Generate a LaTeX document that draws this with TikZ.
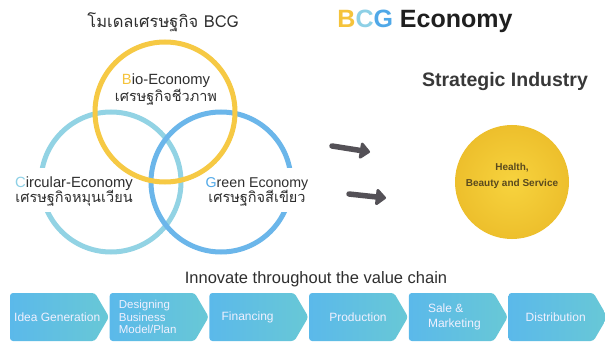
\documentclass[tikz,border=0pt]{standalone}
\usepackage{fontspec}
\setmainfont{Liberation Sans}
\newfontfamily\thaifont[Script=Thai]{Loma}
\usetikzlibrary{arrows.meta}
\definecolor{ringY}{HTML}{F6C944}
\definecolor{ringC}{HTML}{92D3E4}
\definecolor{ringB}{HTML}{6BB6EA}
\definecolor{txt}{HTML}{2E2E2E}
\definecolor{chevL}{HTML}{5BB9EA}
\definecolor{chevR}{HTML}{68C8D6}
\definecolor{arrowgray}{HTML}{545157}
\definecolor{goldIn}{HTML}{F7D33E}
\definecolor{goldOut}{HTML}{EDBF2C}
\definecolor{healthtxt}{HTML}{5A4A1E}
\definecolor{letY}{HTML}{F5C33B}
\definecolor{letC}{HTML}{8DD0E6}
\definecolor{letB}{HTML}{4FA8E8}
\begin{document}
\begin{tikzpicture}[x=1pt,y=-1pt,
  ring/.style={circle, line width=5pt, inner sep=0pt, minimum size=140pt},
  lbl/.style={anchor=base, inner sep=0pt, text=txt, font=\fontsize{14.8}{16}\selectfont},
  thl/.style={anchor=base, inner sep=0pt, text=txt, font=\thaifont\fontsize{14.5}{16}\selectfont},
  blank/.style={fill=white, inner sep=3pt},
  chevshape/.style={rounded corners=3pt, left color=chevL, right color=chevR},
  chevtext/.style={text=white!94!blue, font=\fontsize{12}{13}\selectfont, inner sep=0pt, align=left},
  bigarrow/.style={draw=arrowgray, line width=5.5pt, line cap=round, -{Triangle[round,length=11pt,width=19pt]}}
]
\useasboundingbox (0,0) rectangle (605,342);
\fill[white] (0,0) rectangle (605,342);

% titles
\node[anchor=base, inner sep=0pt, text=txt, font=\thaifont\fontsize{16.5}{18}\selectfont] (title) at (163,28) {โมเดลเศรษฐกิจ BCG};
\node[anchor=base, inner sep=0pt, font=\bfseries\fontsize{25}{28}\selectfont] (bcg) at (425,28)
  {{\color{letY}B}{\color{letC}C}{\color{letB}G} {\color{black!88}Economy}};
\node[anchor=base, inner sep=0pt, text=black!78, font=\bfseries\fontsize{19.5}{22}\selectfont] (strat) at (505,87) {Strategic Industry};

% rings
\node[ring, draw=ringC] (circular) at (111,182) {};
\node[ring, draw=ringB] (green) at (221,182) {};

% white backing behind side labels (gaps in the rings)
\node[blank, minimum width=124pt, minimum height=44pt] (circbg) at (74,190) {};
\node[blank, minimum width=104pt, minimum height=44pt] (greenbg) at (257,190) {};

\node[ring, draw=ringY] (bio) at (165,112) {};

% ring labels
\node[lbl] (bioen) at (166,85) {{\color{letY}B}io-Economy};
\node[thl] (bioth) at (166,102) {เศรษฐกิจชีวภาพ};
\node[lbl] (circen) at (74,187) {{\color{letC}C}ircular-Economy};
\node[thl] (circth) at (74,202) {เศรษฐกิจหมุนเวียน};
\node[lbl, font=\fontsize{14.2}{16}\selectfont] (greenen) at (257,187) {{\color{letB}G}reen Economy};
\node[thl] (greenth) at (257,202) {เศรษฐกิจสีเขียว};

% arrows
\coordinate (a1s) at (332,146);
\coordinate (a1e) at (370,152);
\coordinate (a2s) at (349,194);
\coordinate (a2e) at (386,198);
\draw[bigarrow] (a1s) -- (a1e);
\draw[bigarrow] (a2s) -- (a2e);

% strategic industry circle
\node[circle, minimum size=114pt, inner sep=0pt, inner color=goldIn, outer color=goldOut] (ind) at (512,182) {};
\node[anchor=base, inner sep=0pt, text=healthtxt, font=\bfseries\fontsize{10}{11}\selectfont] (health1) at (512,170) {Health,};
\node[anchor=base, inner sep=0pt, text=healthtxt, font=\bfseries\fontsize{10}{11}\selectfont] (health2) at (512,186) {Beauty and Service};

% value chain
\node[anchor=base, inner sep=0pt, text=txt, font=\fontsize{16.5}{18}\selectfont] (innov) at (316,283) {Innovate throughout the value chain};

\foreach \x/\nm in {10/c1, 109.7/c2, 209.4/c3, 309.1/c4, 408.8/c5, 508.5/c6}{
  \path[chevshape] (\x,293) -- ++(85,0) -- ++(14,24) -- ++(-14,24) -- ++(-85,0) -- cycle;
  \coordinate (\nm) at (\x,317);
}
\node[chevtext, anchor=west] (t1) at ([xshift=4pt]c1) {Idea Generation};
\node[chevtext, anchor=west, font=\fontsize{11.5}{12.8}\selectfont] (t2) at ([xshift=9pt]c2) {Designing\\Business\\Model/Plan};
\node[chevtext, anchor=west] (t3) at ([xshift=12pt]c3) {Financing};
\node[chevtext, anchor=west] (t4) at ([xshift=20pt]c4) {Production};
\node[chevtext, anchor=west, font=\fontsize{12}{15}\selectfont] (t5) at ([xshift=19pt]c5) {Sale \&\\Marketing};
\node[chevtext, anchor=west] (t6) at ([xshift=17pt]c6) {Distribution};
\end{tikzpicture}
\end{document}
